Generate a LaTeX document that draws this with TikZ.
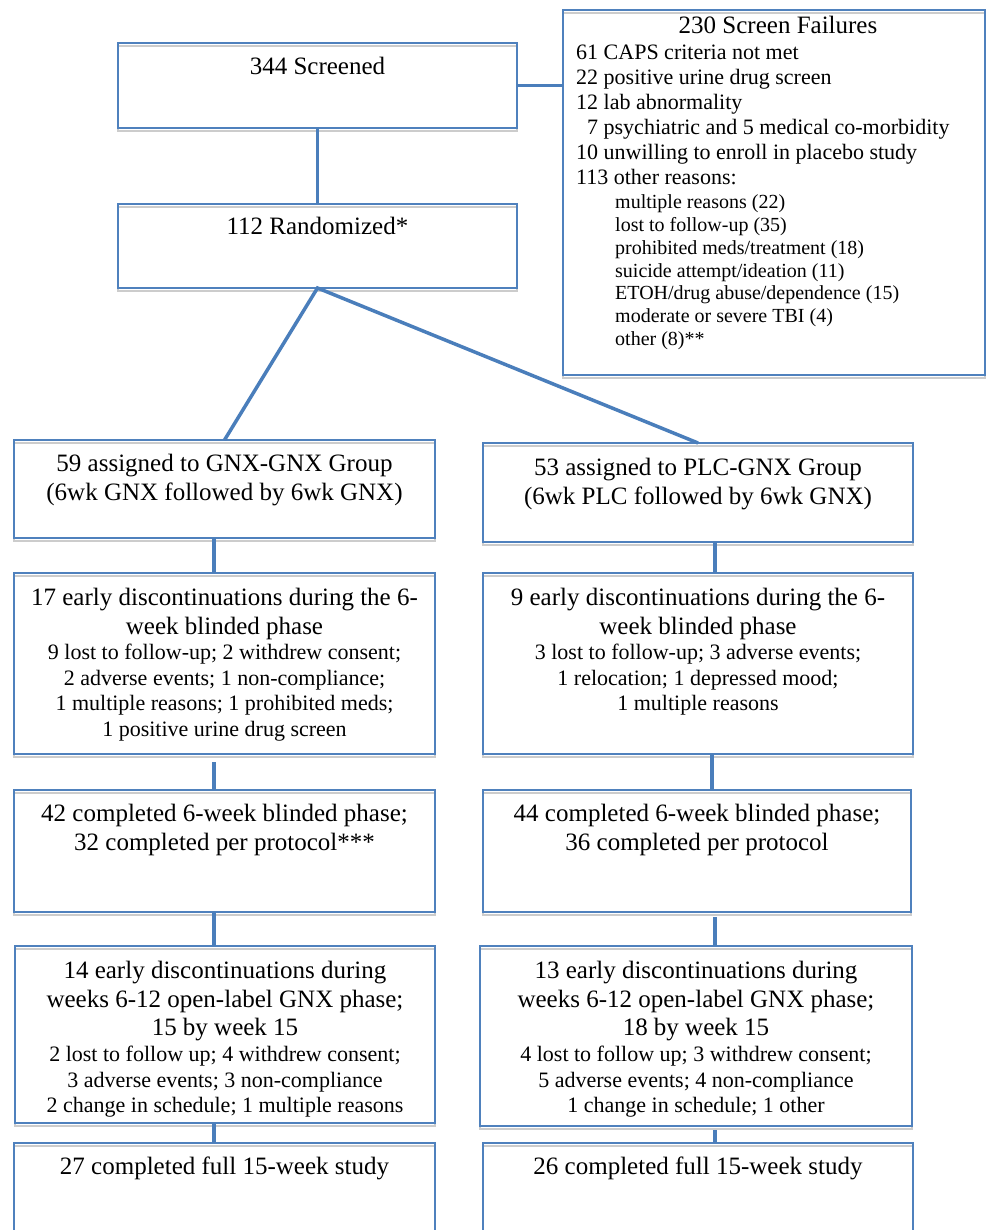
\documentclass[tikz,border=0pt]{standalone}
\usepackage{fontspec}
\setmainfont{Liberation Serif}
\usetikzlibrary{calc}
\definecolor{bx}{HTML}{4F81BD}
\definecolor{cn}{HTML}{4A7EBB}
\newcommand\fbig{\fontsize{25}{28.5}\selectfont}
\newcommand\fsmall{\fontsize{22}{25.5}\selectfont}
\newcommand\fmid{\fontsize{22}{25}\selectfont}
\newcommand\fsub{\fontsize{20}{22.8}\selectfont}
\begin{document}
\begin{tikzpicture}[x=1pt,y=-1pt,
  boxst/.style={draw=bx, line width=1.4pt, inner sep=0pt, outer sep=0pt, anchor=north west,
    preaction={draw=black!20, line width=1.4pt, transform canvas={yshift=-3pt}}},
  conn/.style={draw=cn, line width=3.5pt},
  bigt/.style={anchor=north, inner sep=0pt, align=center, font=\fbig},
  smallt/.style={anchor=north, inner sep=0pt, align=center, font=\fsmall},
  listt/.style={anchor=north west, inner sep=0pt, align=left},
]
\useasboundingbox (0,0) rectangle (986,1230);
\clip (0,0) rectangle (986,1230);

% boxes
\node[boxst, minimum width=399pt, minimum height=85pt] (scr) at (118,43) {};
\node[boxst, minimum width=399pt, minimum height=84pt] (rnd) at (118,204) {};
\node[boxst, minimum width=422pt, minimum height=365pt] (fail) at (563,10) {};
\node[boxst, minimum width=421pt, minimum height=98pt] (a1) at (14,440) {};
\node[boxst, minimum width=430pt, minimum height=99pt] (b1) at (483,443) {};
\node[boxst, minimum width=421pt, minimum height=181pt] (a2) at (14,573) {};
\node[boxst, minimum width=430pt, minimum height=181pt] (b2) at (483,573) {};
\node[boxst, minimum width=421pt, minimum height=122pt] (a3) at (14,790) {};
\node[boxst, minimum width=428pt, minimum height=122pt] (b3) at (483,790) {};
\node[boxst, minimum width=420pt, minimum height=177pt] (a4) at (15,946) {};
\node[boxst, minimum width=432pt, minimum height=180pt] (b4) at (480,946) {};
\node[boxst, minimum width=421pt, minimum height=140pt] (a5) at (14,1143) {};
\node[boxst, minimum width=430pt, minimum height=140pt] (b5) at (483,1143) {};

% texts
\node[bigt] (tscr) at ($(scr.north)+(0,11)$) {\strut 344 Screened};
\node[bigt] (trnd) at ($(rnd.north)+(0,10.5)$) {\strut 112 Randomized*};

\node[bigt] (tfail) at ($(fail.north)+(4,3.5)$) {\strut 230 Screen Failures};
\node[listt, font=\fmid] (lfail) at ($(fail.north west)+(13,31.8)$) {\strut 61 CAPS criteria not met\\
22 positive urine drug screen\\
12 lab abnormality\\
\hphantom{1}7 psychiatric and 5 medical co-morbidity\\
10 unwilling to enroll in placebo study\\
113 other reasons:};
\node[listt, font=\fsub] (sfail) at ($(fail.north west)+(52,182.6)$) {\strut multiple reasons (22)\\
lost to follow-up (35)\\
prohibited meds/treatment (18)\\
suicide attempt/ideation (11)\\
ETOH/drug abuse/dependence (15)\\
moderate or severe TBI (4)\\
other (8)**};

\node[bigt] (ta1) at ($(a1.north)+(0,11.5)$) {\strut 59 assigned to GNX-GNX Group\\(6wk GNX followed by 6wk GNX)};
\node[bigt] (tb1) at ($(b1.north)+(0,12.5)$) {\strut 53 assigned to PLC-GNX Group\\(6wk PLC followed by 6wk GNX)};

\node[bigt] (ta2) at ($(a2.north)+(0,12.5)$) {\strut 17 early discontinuations during the 6-\\week blinded phase};
\node[smallt] (sa2) at ($(a2.north)+(0,68.6)$) {\strut 9 lost to follow-up; 2 withdrew consent;\\
2 adverse events; 1 non-compliance;\\
1 multiple reasons; 1 prohibited meds;\\
1 positive urine drug screen};
\node[bigt] (tb2) at ($(b2.north)+(0,12.5)$) {\strut 9 early discontinuations during the 6-\\week blinded phase};
\node[smallt] (sb2) at ($(b2.north)+(0,68.6)$) {\strut 3 lost to follow-up; 3 adverse events;\\
1 relocation; 1 depressed mood;\\
1 multiple reasons};

\node[bigt] (ta3) at ($(a3.north)+(0,11.5)$) {\strut 42 completed 6-week blinded phase;\\32 completed per protocol***};
\node[bigt] (tb3) at ($(b3.north)+(0,11.5)$) {\strut 44 completed 6-week blinded phase;\\36 completed per protocol};

\node[bigt] (ta4) at ($(a4.north)+(0,12.5)$) {\strut 14 early discontinuations during\\weeks 6-12 open-label GNX phase;\\15 by week 15};
\node[smallt] (sa4) at ($(a4.north)+(0,97.6)$) {\strut 2 lost to follow up; 4 withdrew consent;\\
3 adverse events; 3 non-compliance\\
2 change in schedule; 1 multiple reasons};
\node[bigt] (tb4) at ($(b4.north)+(0,12.5)$) {\strut 13 early discontinuations during\\weeks 6-12 open-label GNX phase;\\18 by week 15};
\node[smallt] (sb4) at ($(b4.north)+(0,97.6)$) {\strut 4 lost to follow up; 3 withdrew consent;\\
5 adverse events; 4 non-compliance\\
1 change in schedule; 1 other};

\node[bigt] (ta5) at ($(a5.north)+(0,11.5)$) {\strut 27 completed full 15-week study};
\node[bigt] (tb5) at ($(b5.north)+(0,11.5)$) {\strut 26 completed full 15-week study};

% connectors
\coordinate (L) at (214,0);
\coordinate (R1) at (715,0);
\coordinate (R2) at (712,0);
\draw[conn] (scr.south) -- (rnd.north);
\draw[conn] (scr.east) -- (scr.east -| fail.west);
\draw[conn] (a1.north) -- (rnd.south) -- (b1.north);
\draw[conn] (a1.south -| L) -- (a2.north -| L);
\draw[conn] (b1.south -| R1) -- (b2.north -| R1);
\draw[conn, shorten <=8pt] (a2.south -| L) -- (a3.north -| L);
\draw[conn] (b2.south -| R2) -- (b3.north -| R2);
\draw[conn] (a3.south -| L) -- (a4.north -| L);
\draw[conn, shorten <=5pt] (b3.south -| R1) -- (b4.north -| R1);
\draw[conn] (a4.south -| L) -- (a5.north -| L);
\draw[conn, shorten <=4pt] (b4.south -| R1) -- (b5.north -| R1);
\end{tikzpicture}
\end{document}
